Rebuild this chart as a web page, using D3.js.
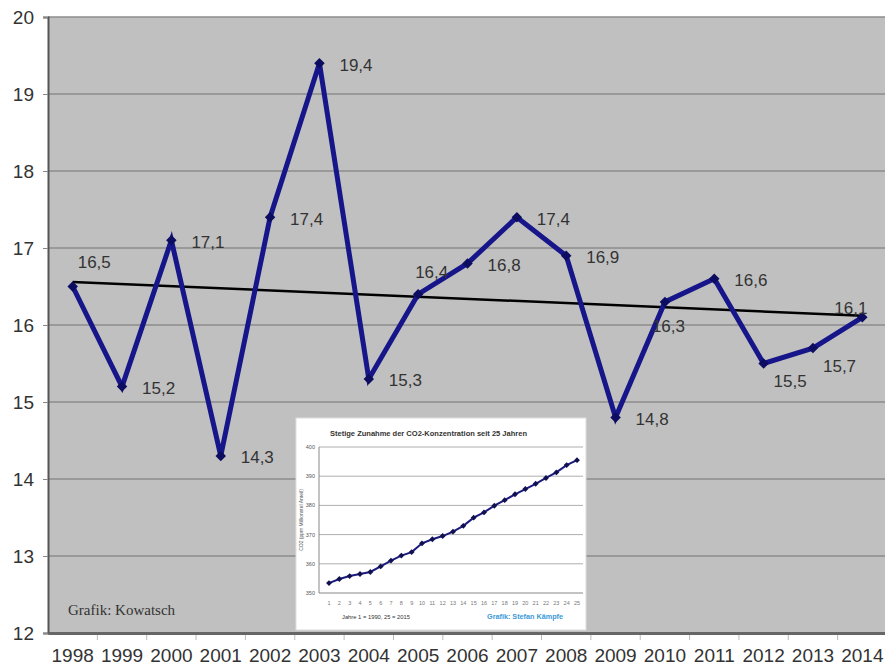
<!DOCTYPE html>
<html>
<head>
<meta charset="utf-8">
<script src="https://cdn.jsdelivr.net/npm/d3@7"></script>
<style>
  body { margin: 0; background: #fff; }
  text { font-family: Arial, "Liberation Sans", sans-serif; }
</style>
</head>
<body>
<script>
var width = 885,
    height = 666;

// main series: mean temperature per year
var years = ['1998','1999','2000','2001','2002','2003','2004','2005','2006',
             '2007','2008','2009','2010','2011','2012','2013','2014'];
var temps = [16.5, 15.2, 17.1, 14.3, 17.4, 19.4, 15.3, 16.4, 16.8,
             17.4, 16.9, 14.8, 16.3, 16.6, 15.5, 15.7, 16.1];
var trendYears = ['1998', '2014'];
var trendValues = [16.56, 16.12];
var yTicks = [12, 13, 14, 15, 16, 17, 18, 19, 20];
var labelPlace = ['above','right','right','right','right','right','right','aboveLeft','right',
                  'right','right','right','below','right','belowRight','belowRight','cornerLeft'];

// inset: CO2 concentration, year 1 = 1990
var co2Years = d3.range(1, 26);
var co2 = [353.4, 354.8, 355.8, 356.5, 357.2, 359.1, 361.1, 362.8, 364.0, 367.0,
           368.4, 369.5, 371.0, 373.0, 375.8, 377.6, 379.9, 381.8, 383.8, 385.6,
           387.4, 389.4, 391.3, 393.8, 395.5];
var co2Ticks = [350, 360, 370, 380, 390, 400];

var offsets = {
    right:      [20, 2],
    above:      [5, -24],
    aboveLeft:  [-3, -22],
    below:      [-13, 25],
    belowRight: [10, 18],
    cornerLeft: [-28, -9]
};

var svg = d3.select('body')
    .append('svg')
    .attr('width', width)
    .attr('height', height);

var plot = {left: 48, right: 887, top: 17, bottom: 633};

var x = d3.scaleBand()
    .domain(years)
    .range([plot.left, plot.right]);

var y = d3.scaleLinear()
    .domain([12, 20])
    .range([plot.bottom, plot.top]);

var cx = function(d) { return x(d) + x.bandwidth() / 2; };

svg.append('rect')
    .attr('x', plot.left)
    .attr('y', plot.top)
    .attr('width', plot.right - plot.left)
    .attr('height', plot.bottom - plot.top)
    .style('fill', '#c0c0c0');

// gridlines
svg.selectAll('line.grid')
    .data(yTicks.slice(1))
    .enter()
    .append('line')
    .classed('grid', true)
    .attr('x1', plot.left)
    .attr('x2', plot.right)
    .attr('y1', function(d) { return y(d); })
    .attr('y2', function(d) { return y(d); })
    .style('stroke', '#8c8c8c')
    .style('stroke-width', 1.5);

// y axis
var yAxis = svg.append('g')
    .attr('transform', 'translate(' + plot.left + ',0)')
    .call(d3.axisLeft(y).tickValues(yTicks).tickSize(5).tickPadding(9));
yAxis.select('.domain').style('stroke', '#555').style('stroke-width', 2);
yAxis.selectAll('.tick line').style('stroke', '#888');
yAxis.selectAll('text')
    .style('font-size', '19px')
    .style('fill', '#333');

// x axis
var xAxis = svg.append('g')
    .attr('transform', 'translate(0,' + plot.bottom + ')')
    .call(d3.axisBottom(x).tickSize(0).tickPadding(16));
xAxis.select('.domain').style('stroke', '#666').style('stroke-width', 3);
xAxis.selectAll('text')
    .style('font-size', '19px')
    .style('fill', '#333');

svg.selectAll('line.xtick')
    .data(years.slice(1))
    .enter()
    .append('line')
    .classed('xtick', true)
    .attr('x1', function(d) { return x(d); })
    .attr('x2', function(d) { return x(d); })
    .attr('y1', plot.bottom + 2)
    .attr('y2', plot.bottom + 7)
    .style('stroke', '#bbb');

svg.append('text')
    .attr('x', 68)
    .attr('y', 615)
    .style('font-family', '"Liberation Serif", "Times New Roman", serif')
    .style('font-size', '15px')
    .style('fill', '#333')
    .text('Grafik: Kowatsch');

// ---- inset chart ----
var inset = svg.append('g');
var box = {left: 296, right: 586, top: 418, bottom: 630};

inset.append('rect')
    .attr('x', box.left)
    .attr('y', box.top)
    .attr('width', box.right - box.left)
    .attr('height', box.bottom - box.top)
    .style('fill', '#fff')
    .style('stroke', '#ddd');

var ix = d3.scalePoint()
    .domain(co2Years)
    .range([329, 577]);

var iy = d3.scaleLinear()
    .domain([350, 400])
    .range([593, 447]);

inset.selectAll('line.igrid')
    .data(co2Ticks.slice(1))
    .enter()
    .append('line')
    .classed('igrid', true)
    .attr('x1', 319)
    .attr('x2', 583)
    .attr('y1', function(d) { return iy(d); })
    .attr('y2', function(d) { return iy(d); })
    .style('stroke', '#999')
    .style('stroke-width', 0.8);

inset.append('line')
    .attr('x1', 319).attr('x2', 319)
    .attr('y1', 447).attr('y2', 593)
    .style('stroke', '#888');
inset.append('line')
    .attr('x1', 319).attr('x2', 583)
    .attr('y1', 593).attr('y2', 593)
    .style('stroke', '#888');

inset.selectAll('text.iy')
    .data(co2Ticks)
    .enter()
    .append('text')
    .classed('iy', true)
    .attr('x', 315)
    .attr('y', function(d) { return iy(d) + 2; })
    .attr('text-anchor', 'end')
    .style('font-size', '5.5px')
    .style('fill', '#555')
    .text(function(d) { return d; });

inset.selectAll('text.ix')
    .data(co2Years)
    .enter()
    .append('text')
    .classed('ix', true)
    .attr('x', function(d) { return ix(d); })
    .attr('y', 605)
    .attr('text-anchor', 'middle')
    .style('font-size', '5.5px')
    .style('fill', '#777')
    .text(function(d) { return d; });

inset.append('text')
    .attr('transform', 'translate(303,520) rotate(-90)')
    .attr('text-anchor', 'middle')
    .style('font-size', '5px')
    .style('fill', '#555')
    .text('CO2 (ppm Millionstel Anteil)');

inset.append('text')
    .attr('x', 330)
    .attr('y', 436)
    .attr('textLength', 197)
    .attr('lengthAdjust', 'spacingAndGlyphs')
    .style('font-size', '8px')
    .style('font-weight', 'bold')
    .style('fill', '#333')
    .text('Stetige Zunahme der CO2-Konzentration seit 25 Jahren');

inset.append('text')
    .attr('x', 342)
    .attr('y', 619)
    .attr('textLength', 68)
    .attr('lengthAdjust', 'spacingAndGlyphs')
    .style('font-size', '6px')
    .style('fill', '#333')
    .text('Jahre 1 = 1990, 25 = 2015');

inset.append('text')
    .attr('x', 487)
    .attr('y', 619)
    .attr('textLength', 76)
    .attr('lengthAdjust', 'spacingAndGlyphs')
    .style('font-size', '6.5px')
    .style('font-weight', 'bold')
    .style('fill', '#3a9ad9')
    .text('Grafik: Stefan Kämpfe');

inset.append('path')
    .datum(co2)
    .attr('d', d3.line()
        .x(function(d, i) { return ix(co2Years[i]); })
        .y(function(d) { return iy(d); }))
    .style('fill', 'none')
    .style('stroke', '#1a1a80')
    .style('stroke-width', 2);

inset.selectAll('path.imark')
    .data(co2)
    .enter()
    .append('path')
    .classed('imark', true)
    .attr('d', d3.symbol().type(d3.symbolDiamond2).size(22))
    .attr('transform', function(d, i) {
        return 'translate(' + ix(co2Years[i]) + ',' + iy(d) + ')';
    })
    .style('fill', '#111150');

// ---- trend and main series ----
svg.append('line')
    .attr('x1', cx(trendYears[0]))
    .attr('y1', y(trendValues[0]))
    .attr('x2', cx(trendYears[1]))
    .attr('y2', y(trendValues[1]))
    .style('stroke', '#000')
    .style('stroke-width', 2.5);

svg.append('path')
    .datum(temps)
    .attr('d', d3.line()
        .x(function(d, i) { return cx(years[i]); })
        .y(function(d) { return y(d); }))
    .style('fill', 'none')
    .style('stroke', '#16168a')
    .style('stroke-width', 5)
    .style('stroke-linejoin', 'miter');

svg.selectAll('path.mark')
    .data(temps)
    .enter()
    .append('path')
    .classed('mark', true)
    .attr('d', d3.symbol().type(d3.symbolDiamond2).size(70))
    .attr('transform', function(d, i) {
        return 'translate(' + cx(years[i]) + ',' + y(d) + ')';
    })
    .style('fill', '#0c0c60');

svg.selectAll('text.val')
    .data(temps)
    .enter()
    .append('text')
    .classed('val', true)
    .attr('x', function(d, i) { return cx(years[i]) + offsets[labelPlace[i]][0]; })
    .attr('y', function(d, i) { return y(d) + offsets[labelPlace[i]][1]; })
    .attr('dominant-baseline', 'central')
    .style('font-size', '17px')
    .style('fill', '#333')
    .text(function(d) { return String(d).replace('.', ','); });
</script>
</body>
</html>
